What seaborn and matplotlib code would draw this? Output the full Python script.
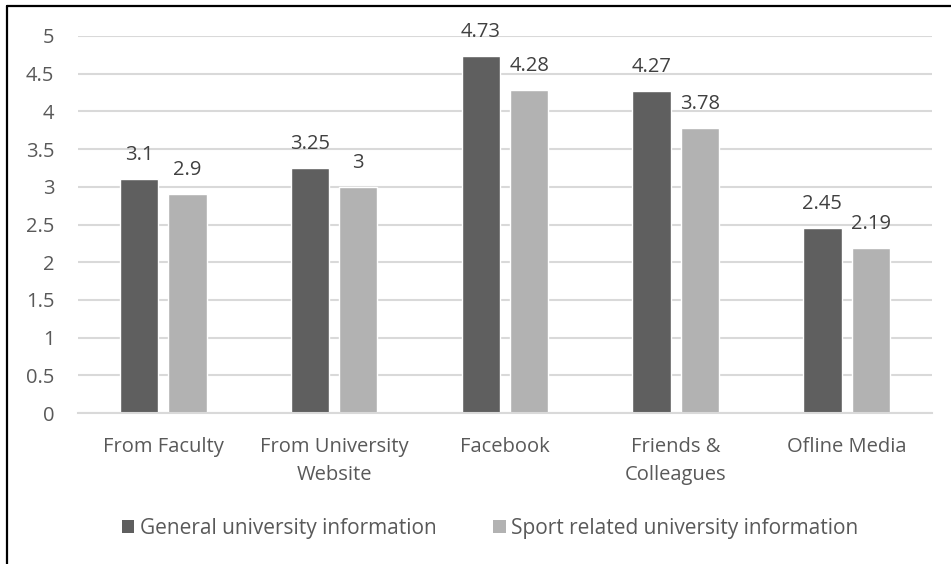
import matplotlib
matplotlib.use("Agg")
import matplotlib.pyplot as plt
from matplotlib.lines import Line2D
from matplotlib.patches import Patch
import seaborn as sns
import pandas as pd

# Source categories (x axis) and mean scores for each information type
categories = ["From Faculty", "From University\nWebsite", "Facebook",
              "Friends &\nColleagues", "Ofline Media"]
general_info = [3.1, 3.25, 4.73, 4.27, 2.45]
sport_info = [2.9, 3.0, 4.28, 3.78, 2.19]
series_names = ["General university information",
                "Sport related university information"]
y_ticks = [0, 0.5, 1, 1.5, 2, 2.5, 3, 3.5, 4, 4.5, 5]
y_tick_labels = ["0", "0.5", "1", "1.5", "2", "2.5", "3", "3.5", "4", "4.5", "5"]

colors = ["#5f5f5f", "#b2b2b2"]
text_color = "#595959"
label_color = "#404040"
grid_color = "#d9d9d9"
fs = 14.5

df = pd.DataFrame({
    "source": categories * 2,
    "score": general_info + sport_info,
    "kind": [series_names[0]] * len(categories) + [series_names[1]] * len(categories),
})

sns.set_theme(style="white")
plt.rcParams["font.family"] = ["Open Sans", "DejaVu Sans"]

fig = plt.figure(figsize=(9.51, 5.64), dpi=100)
ax = fig.add_axes([0.082, 0.2677, 0.898, 0.6685])

sns.barplot(data=df, x="source", y="score", hue="kind", order=categories,
            hue_order=series_names, palette=colors, width=0.566, gap=0.209,
            saturation=1, ax=ax, legend=False, errorbar=None)

ax.set_ylim(0, 5)
ax.set_xlim(-0.5, len(categories) - 0.5)
ax.set_yticks(y_ticks)
ax.set_yticklabels(y_tick_labels)
ax.set_xlabel("")
ax.set_ylabel("")
ax.yaxis.grid(True, color=grid_color, linewidth=1.5)
ax.set_axisbelow(True)
for side in ["left", "right", "top"]:
    ax.spines[side].set_visible(False)
ax.spines["bottom"].set_color(grid_color)
ax.spines["bottom"].set_linewidth(1.5)
ax.tick_params(axis="y", length=0, pad=17, labelsize=fs, labelcolor=text_color)
ax.tick_params(axis="x", length=0, pad=17, labelsize=fs, labelcolor=text_color)
for lbl in ax.get_xticklabels():
    lbl.set_linespacing(1.55)

# Value labels above each bar
for container in ax.containers:
    ax.bar_label(container, labels=[f"{v:g}" for v in container.datavalues],
                 padding=10, fontsize=fs, color=label_color)

# Legend below the plot
handles = [Patch(facecolor=c, edgecolor="none") for c in colors]
fig.legend(handles, series_names, loc="center", bbox_to_anchor=(0.515, 0.063),
           ncol=2, frameon=False, fontsize=15, labelcolor=text_color,
           handlelength=0.62, handleheight=0.62, handletextpad=0.25,
           columnspacing=2.7)

# Frame lines along the top and left edges
fig.add_artist(Line2D([0.0074, 0.0074], [0.0, 0.9894], transform=fig.transFigure,
                      color="black", linewidth=1.6))
fig.add_artist(Line2D([0.0074, 1.0], [0.9894, 0.9894], transform=fig.transFigure,
                      color="black", linewidth=1.6))

fig.savefig("out.png", dpi=100)
